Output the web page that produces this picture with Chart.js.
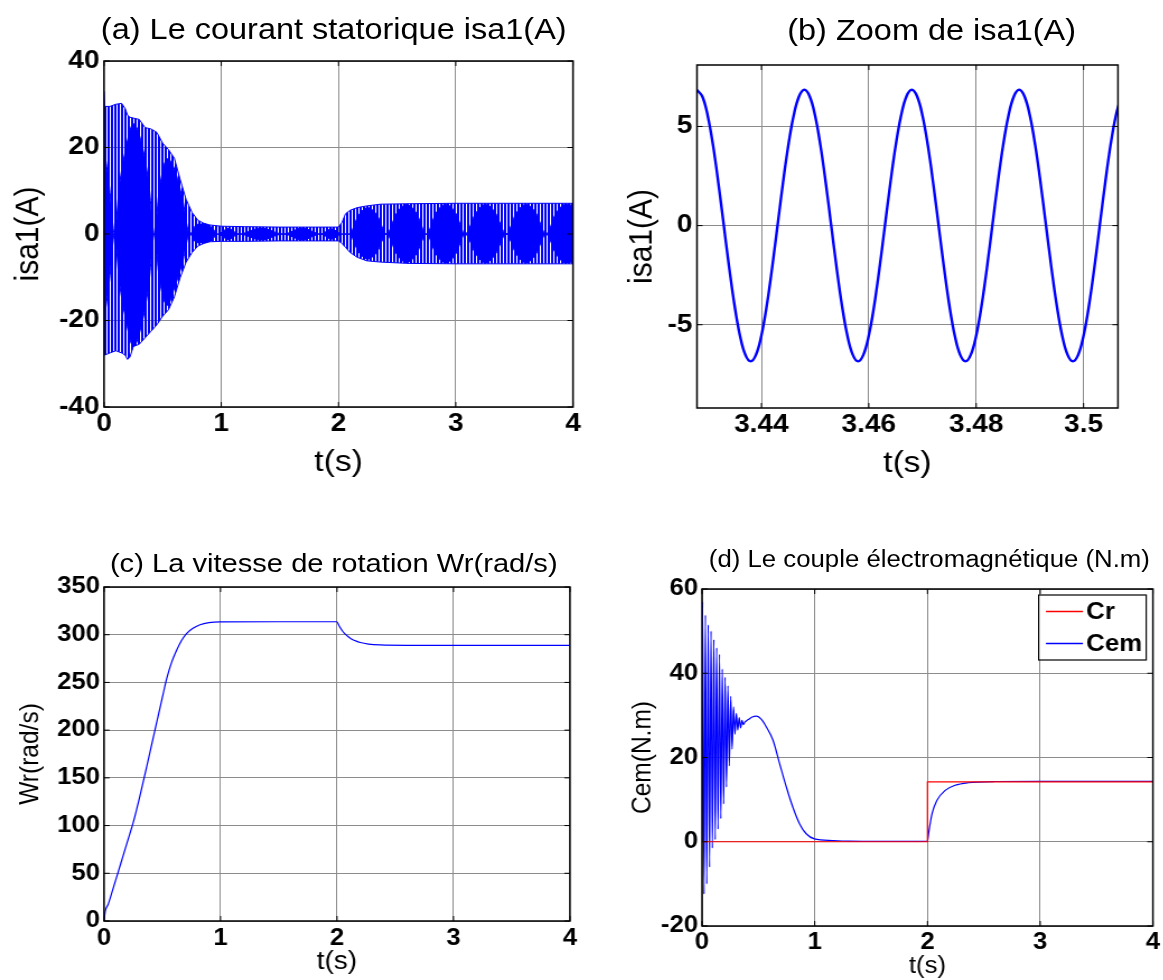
<!DOCTYPE html>
<html>
<head>
<meta charset="utf-8">
<script src="https://cdn.jsdelivr.net/npm/chart.js@4.4.0/dist/chart.umd.min.js"></script>
<style>
  html, body { margin: 0; padding: 0; background: #fff; }
  body { width: 1163px; height: 980px; position: relative; overflow: hidden; font-family: "Liberation Sans", Arial, sans-serif; }
  /* the reference figure is stretched horizontally, so each panel is too */
  .panel { position: absolute; transform: scaleX(1.12); transform-origin: 0 0; }
  .panel canvas { position: absolute; left: 0; top: 0; }
  .ttl { position: absolute; white-space: nowrap; line-height: 1; transform: translate(-50%, -50%); color: #000; }
</style>
</head>
<body>
<div class="panel" style="left:0;top:0;width:527px;height:500px">
  <canvas id="ca" width="527" height="500"></canvas>
  <div class="ttl" style="left:298px;top:29px;font-size:29px">(a) Le courant statorique isa1(A)</div>
</div>
<div class="panel" style="left:590px;top:0;width:512px;height:500px">
  <canvas id="cb" width="512" height="500"></canvas>
  <div class="ttl" style="left:305px;top:30px;font-size:29px">(b) Zoom de isa1(A)</div>
</div>
<div class="panel" style="left:0;top:500px;width:527px;height:480px">
  <canvas id="cc" width="527" height="480"></canvas>
  <div class="ttl" style="left:298px;top:63px;font-size:26px">(c) La vitesse de rotation Wr(rad/s)</div>
</div>
<div class="panel" style="left:590px;top:500px;width:512px;height:480px">
  <canvas id="cd" width="512" height="480"></canvas>
  <div class="ttl" style="left:303px;top:59px;font-size:23px">(d) Le couple électromagnétique (N.m)</div>
</div>
<script>
// (a) stator current: outer envelope of the oscillation and the dense "beat" lobes
const aEnvT  = [0, 0.005, 0.05, 0.1, 0.15, 0.18, 0.2, 0.22, 0.25, 0.3, 0.35, 0.4, 0.45, 0.5, 0.55, 0.6, 0.65, 0.7, 0.75, 0.8, 0.85, 0.9, 1.0, 1.2, 1.5, 1.8, 2.0, 2.03, 2.06, 2.1, 2.16, 2.24, 2.36, 2.6, 3.0, 3.5, 4.0];
const aEnvUp = [33, 29.5, 29.5, 30, 30.2, 29, 27.5, 27, 26.8, 26.5, 24.6, 24.3, 23.5, 21, 19.5, 17.5, 12.5, 8, 5, 3.2, 2.5, 2.1, 1.8, 1.7, 1.6, 1.6, 1.6, 2.7, 4.7, 5.5, 6.1, 6.5, 6.9, 7.0, 7.1, 7.1, 7.1];
const aEnvLo = [-28, -28, -27.5, -27, -27.5, -28, -29, -28.5, -26, -25.5, -24, -22.5, -21, -19, -17.5, -14.5, -10, -6.5, -4.3, -2.8, -2.2, -1.8, -1.7, -1.7, -1.6, -1.6, -1.6, -2.2, -3.1, -4.3, -5.4, -6.2, -6.5, -6.8, -6.9, -6.9, -6.9];
const aLobeT  = [0, 0.045, 0.09, 0.13, 0.18, 0.25, 0.32, 0.38, 0.43, 0.47, 0.54, 0.6, 0.67, 0.73, 0.79, 0.85, 0.92, 0.97, 1.06, 1.15, 1.34, 1.53, 1.69, 1.85, 1.94, 2.03, 2.09, 2.17, 2.25, 2.33, 2.41, 2.495, 2.58, 2.665, 2.75, 2.83, 2.915, 3.0, 3.08, 3.17, 3.255, 3.34, 3.43, 3.515, 3.6, 3.685, 3.77, 3.855, 3.94, 4.0];
const aLobeUp = [20, 11, 0, 11, 19, 25.5, 21, 12, 0, 10, 17.4, 15, 8, 0, 2.2, 2.3, 1.5, 0, 1.3, 0, 1.4, 0, 1.4, 0, 1.2, 0, 0, 4.3, 6.1, 4.3, 0, 4.8, 6.8, 4.8, 0, 4.8, 6.9, 4.8, 0, 4.8, 6.9, 4.8, 0, 4.8, 6.9, 4.8, 0, 4.8, 6.9, 6.6];
const aLobeLo = [-20, -11, 0, -11, -19, -26, -21, -12, 0, -10, -16.5, -12.5, -6.5, 0, -2, -2, -1.4, 0, -1.3, 0, -1.4, 0, -1.4, 0, -1.2, 0, 0, -4.1, -5.8, -4.1, 0, -4.6, -6.6, -4.6, 0, -4.6, -6.7, -4.6, 0, -4.6, -6.7, -4.6, 0, -4.6, -6.7, -4.6, 0, -4.6, -6.7, -6.4];
const aXTicks = [0, 1, 2, 3, 4];
const aYTicks = [-40, -20, 0, 20, 40];

// (b) zoom of isa1 in steady state
const bTime = [3.428, 3.429, 3.430, 3.431, 3.432, 3.433, 3.434, 3.435, 3.436, 3.437, 3.438, 3.439, 3.440, 3.441, 3.442, 3.443, 3.444, 3.445, 3.446, 3.447,
               3.448, 3.449, 3.450, 3.451, 3.452, 3.453, 3.454, 3.455, 3.456, 3.457, 3.458, 3.459, 3.460, 3.461, 3.462, 3.463, 3.464, 3.465, 3.466, 3.467,
               3.468, 3.469, 3.470, 3.471, 3.472, 3.473, 3.474, 3.475, 3.476, 3.477, 3.478, 3.479, 3.480, 3.481, 3.482, 3.483, 3.484, 3.485, 3.486, 3.487,
               3.488, 3.489, 3.490, 3.491, 3.492, 3.493, 3.494, 3.495, 3.496, 3.497, 3.498, 3.499, 3.500, 3.501, 3.502, 3.503, 3.504, 3.505, 3.506, 3.507];
const bIsa = [6.84, 6.51, 5.54, 4.03, 2.12, 0.0, -2.12, -4.03, -5.54, -6.51, -6.85, -6.51, -5.54, -4.03, -2.12, 0.0, 2.12, 4.03, 5.54, 6.51,
              6.85, 6.51, 5.54, 4.03, 2.12, 0.0, -2.12, -4.03, -5.54, -6.51, -6.85, -6.51, -5.54, -4.03, -2.12, 0.0, 2.12, 4.03, 5.54, 6.51,
              6.85, 6.51, 5.54, 4.03, 2.12, 0.0, -2.12, -4.03, -5.54, -6.51, -6.85, -6.51, -5.54, -4.03, -2.12, 0.0, 2.12, 4.03, 5.54, 6.51,
              6.85, 6.51, 5.54, 4.03, 2.12, 0.0, -2.12, -4.03, -5.54, -6.51, -6.85, -6.51, -5.54, -4.03, -2.12, 0.0, 2.12, 4.03, 5.54, 6.51];
const bXTicks = [3.44, 3.46, 3.48, 3.5];
const bYTicks = [-5, 0, 5];

// (c) rotor speed
const cTime  = [0, 0.01, 0.037, 0.08, 0.123, 0.16, 0.2, 0.25, 0.3, 0.35, 0.4, 0.45, 0.5, 0.54, 0.58, 0.624, 0.665, 0.71, 0.76, 0.824, 0.9, 0.996, 1.5, 1.998, 2.02, 2.05, 2.08, 2.12, 2.16, 2.2, 2.27, 2.37, 2.6, 3.0, 4.0];
const cSpeed = [0, 10, 18, 35, 52, 67, 83, 103, 127, 153, 180, 207, 234, 255, 271, 284, 294, 301.5, 306.5, 310.5, 312.7, 313.5, 313.6, 313.6, 308.9, 303.4, 299.5, 295.8, 293.5, 291.8, 290.2, 289.3, 288.9, 288.9, 288.9];
const cXTicks = [0, 1, 2, 3, 4];
const cYTicks = [0, 50, 100, 150, 200, 250, 300, 350];

// (d) load torque and electromagnetic torque
const dCrT = [0, 2.0, 2.0, 4.0];
const dCr  = [0, 0, 14.2, 14.2];
const dTime = [0, 0.005, 0.018, 0.03, 0.042, 0.055, 0.067, 0.08, 0.092, 0.105, 0.117, 0.13, 0.142, 0.155, 0.167, 0.18, 0.192, 0.205, 0.217, 0.23,
               0.242, 0.255, 0.267, 0.28, 0.292, 0.305, 0.317, 0.33, 0.342, 0.355, 0.367, 0.38, 0.41, 0.445, 0.484, 0.525, 0.572, 0.63, 0.689, 0.748,
               0.806, 0.865, 0.924, 0.997, 1.16, 1.3, 1.6, 2.0, 2.01, 2.04, 2.083, 2.157, 2.245, 2.36, 2.6, 3.0, 4.0];
const dCem  = [0, 57, -12.4, 53.8, -10, 51.5, -6, 50, -1.5, 48, 0.5, 46, 3, 44.5, 5.5, 41, 9, 39, 13, 37,
               18, 34.5, 22, 32, 25.5, 30.5, 26.5, 29.5, 27, 28.8, 27.8, 28.4, 29.0, 29.6, 29.8, 29.1, 27.2, 24.1, 18.5, 13,
               8.2, 4.3, 1.9, 0.7, 0.3, 0.15, 0.1, 0.1, 2.0, 6.6, 9.8, 12.2, 13.4, 14.0, 14.3, 14.35, 14.35];
const dXTicks = [0, 1, 2, 3, 4];
const dYTicks = [-20, 0, 20, 40, 60];

const $ = (id) => document.getElementById(id);
const FONT = '"Liberation Sans", Arial, sans-serif';
const BLUE = '#0000ff';
const RED = '#ff0000';
const GRID = '#8c8c8c';

const pts = (xs, ys) => xs.map((x, i) => ({ x, y: ys[i] }));
const fmt = (v) => String(Math.round(v * 10000) / 10000);

// MATLAB-like box with inward ticks
const frame = {
  id: 'frame',
  afterDraw(chart){
    const { ctx, chartArea: a, scales } = chart;
    ctx.save();
    ctx.strokeStyle = '#000';
    ctx.lineWidth = 1.5;
    ctx.strokeRect(a.left, a.top, a.right - a.left, a.bottom - a.top);
    ctx.lineWidth = 1;
    ctx.beginPath();
    scales.x.ticks.forEach(t => {
      const x = scales.x.getPixelForValue(t.value);
      ctx.moveTo(x, a.bottom); ctx.lineTo(x, a.bottom - 5);
      ctx.moveTo(x, a.top); ctx.lineTo(x, a.top + 5);
    });
    scales.y.ticks.forEach(t => {
      const y = scales.y.getPixelForValue(t.value);
      ctx.moveTo(a.left, y); ctx.lineTo(a.left + 5, y);
      ctx.moveTo(a.right, y); ctx.lineTo(a.right - 5, y);
    });
    ctx.stroke();
    ctx.restore();
  }
};

// legend box inside the plot, top right (panel d)
const boxLegend = {
  id: 'boxLegend',
  afterDraw(chart){
    const { ctx, chartArea: a } = chart;
    const w = 96, h = 65;
    const left = a.right - 6 - w, top = a.top + 6;
    ctx.save();
    ctx.fillStyle = '#fff';
    ctx.fillRect(left, top, w, h);
    ctx.strokeStyle = '#000';
    ctx.lineWidth = 1.2;
    ctx.strokeRect(left, top, w, h);
    ctx.font = 'bold 23px ' + FONT;
    ctx.textBaseline = 'middle';
    chart.data.datasets.forEach((ds, i) => {
      const y = top + 16.5 + i * 32;
      ctx.strokeStyle = ds.borderColor;
      ctx.lineWidth = 1.5;
      ctx.beginPath(); ctx.moveTo(left + 6.5, y); ctx.lineTo(left + 39.5, y); ctx.stroke();
      ctx.fillStyle = '#000';
      ctx.fillText(ds.label, left + 42.5, y + 1);
    });
    ctx.restore();
  }
};

function stripes(ctx){
  const c = document.createElement('canvas');
  c.width = 3; c.height = 2;
  const g = c.getContext('2d');
  g.fillStyle = BLUE;
  g.fillRect(0, 0, 2, 2);
  return ctx.createPattern(c, 'repeat');
}

function makeChart(id, datasets, o, extra){
  return new Chart($(id), {
    type: 'line',
    data: { datasets },
    options: {
      responsive: false,
      animation: false,
      layout: { autoPadding: false, padding: { left: 0, top: o.top, right: o.right, bottom: 0 } },
      plugins: { legend: { display: false }, tooltip: { enabled: false } },
      elements: { point: { radius: 0 } },
      scales: {
        x: {
          type: 'linear', min: o.xMin, max: o.xMax,
          afterBuildTicks: (s) => { s.ticks = o.xTicks.map(v => ({ value: v })); },
          afterFit: (s) => { s.height = o.xH; },
          grid: { color: GRID, lineWidth: 1, drawTicks: false },
          border: { display: false },
          ticks: { color: '#000', font: { family: FONT, size: o.tick, weight: 'bold' }, padding: o.xPad, maxRotation: 0, autoSkip: false, callback: (v) => fmt(v) },
          title: { display: true, text: 't(s)', color: '#000', font: { family: FONT, size: o.xTitle }, padding: { top: 0, bottom: o.xTitlePad } }
        },
        y: {
          min: o.yMin, max: o.yMax,
          afterBuildTicks: (s) => { s.ticks = o.yTicks.map(v => ({ value: v })); },
          afterFit: (s) => { s.width = o.yW; },
          grid: { color: GRID, lineWidth: 1, drawTicks: false },
          border: { display: false },
          ticks: { color: '#000', font: { family: FONT, size: o.tick, weight: 'bold' }, padding: o.yPad, autoSkip: false, callback: (v) => fmt(v) },
          title: { display: true, text: o.yLabel, color: '#000', font: { family: FONT, size: o.yTitle }, padding: { top: o.yTitlePad, bottom: 0 } }
        }
      }
    },
    plugins: [frame].concat(extra || [])
  });
}

// (a)
makeChart('ca', [
  { label: 'lobes', data: pts(aLobeT, aLobeUp), borderColor: BLUE, borderWidth: 1, fill: '+1', backgroundColor: BLUE, cubicInterpolationMode: 'monotone' },
  { label: 'lobes-', data: pts(aLobeT, aLobeLo), borderColor: BLUE, borderWidth: 1, fill: false, cubicInterpolationMode: 'monotone' },
  { label: 'isa1', data: pts(aEnvT, aEnvUp), borderColor: BLUE, borderWidth: 1, fill: '+1', backgroundColor: stripes($('ca').getContext('2d')) },
  { label: 'isa1-', data: pts(aEnvT, aEnvLo), borderColor: BLUE, borderWidth: 1, fill: false }
], { top: 61, right: 15.4, yW: 92.9, xH: 93, xMin: 0, xMax: 4, yMin: -40, yMax: 40, xTicks: aXTicks, yTicks: aYTicks,
     tick: 25, xPad: 2, yPad: 4, xTitle: 30, xTitlePad: 19, yLabel: 'isa1(A)', yTitle: 30, yTitlePad: 8 });

// (b)
makeChart('cb', [
  { label: 'isa1', data: pts(bTime, bIsa), borderColor: BLUE, borderWidth: 2.4, fill: false, tension: 0.4 }
], { top: 65, right: 40.6, yW: 95.5, xH: 92, xMin: 3.428, xMax: 3.5064, yMin: -9.2, yMax: 8.1, xTicks: bXTicks, yTicks: bYTicks,
     tick: 25, xPad: 2, yPad: 4, xTitle: 30, xTitlePad: 18, yLabel: 'isa1(A)', yTitle: 30, yTitlePad: 29 });

// (c)
makeChart('cc', [
  { label: 'Wr', data: pts(cTime, cSpeed), borderColor: BLUE, borderWidth: 1.2, fill: false, cubicInterpolationMode: 'monotone' }
], { top: 87, right: 18.1, yW: 92.9, xH: 59, xMin: 0, xMax: 4, yMin: 0, yMax: 350, xTicks: cXTicks, yTicks: cYTicks,
     tick: 23, xPad: 4, yPad: 3.5, xTitle: 25, xTitlePad: 3, yLabel: 'Wr(rad/s)', yTitle: 24.5, yTitlePad: 13 });

// (d)
makeChart('cd', [
  { label: 'Cr', data: pts(dCrT, dCr), borderColor: RED, borderWidth: 1.2, fill: false },
  { label: 'Cem', data: pts(dTime, dCem), borderColor: BLUE, borderWidth: 1.2, fill: false, cubicInterpolationMode: 'monotone' }
], { top: 89, right: 6.6, yW: 100, xH: 54, xMin: 0, xMax: 4, yMin: -20, yMax: 60, xTicks: dXTicks, yTicks: dYTicks,
     tick: 23, xPad: 3, yPad: 3.5, xTitle: 23, xTitlePad: 0, yLabel: 'Cem(N.m)', yTitle: 24.5, yTitlePad: 33 }, [boxLegend]);
</script>
</body>
</html>
